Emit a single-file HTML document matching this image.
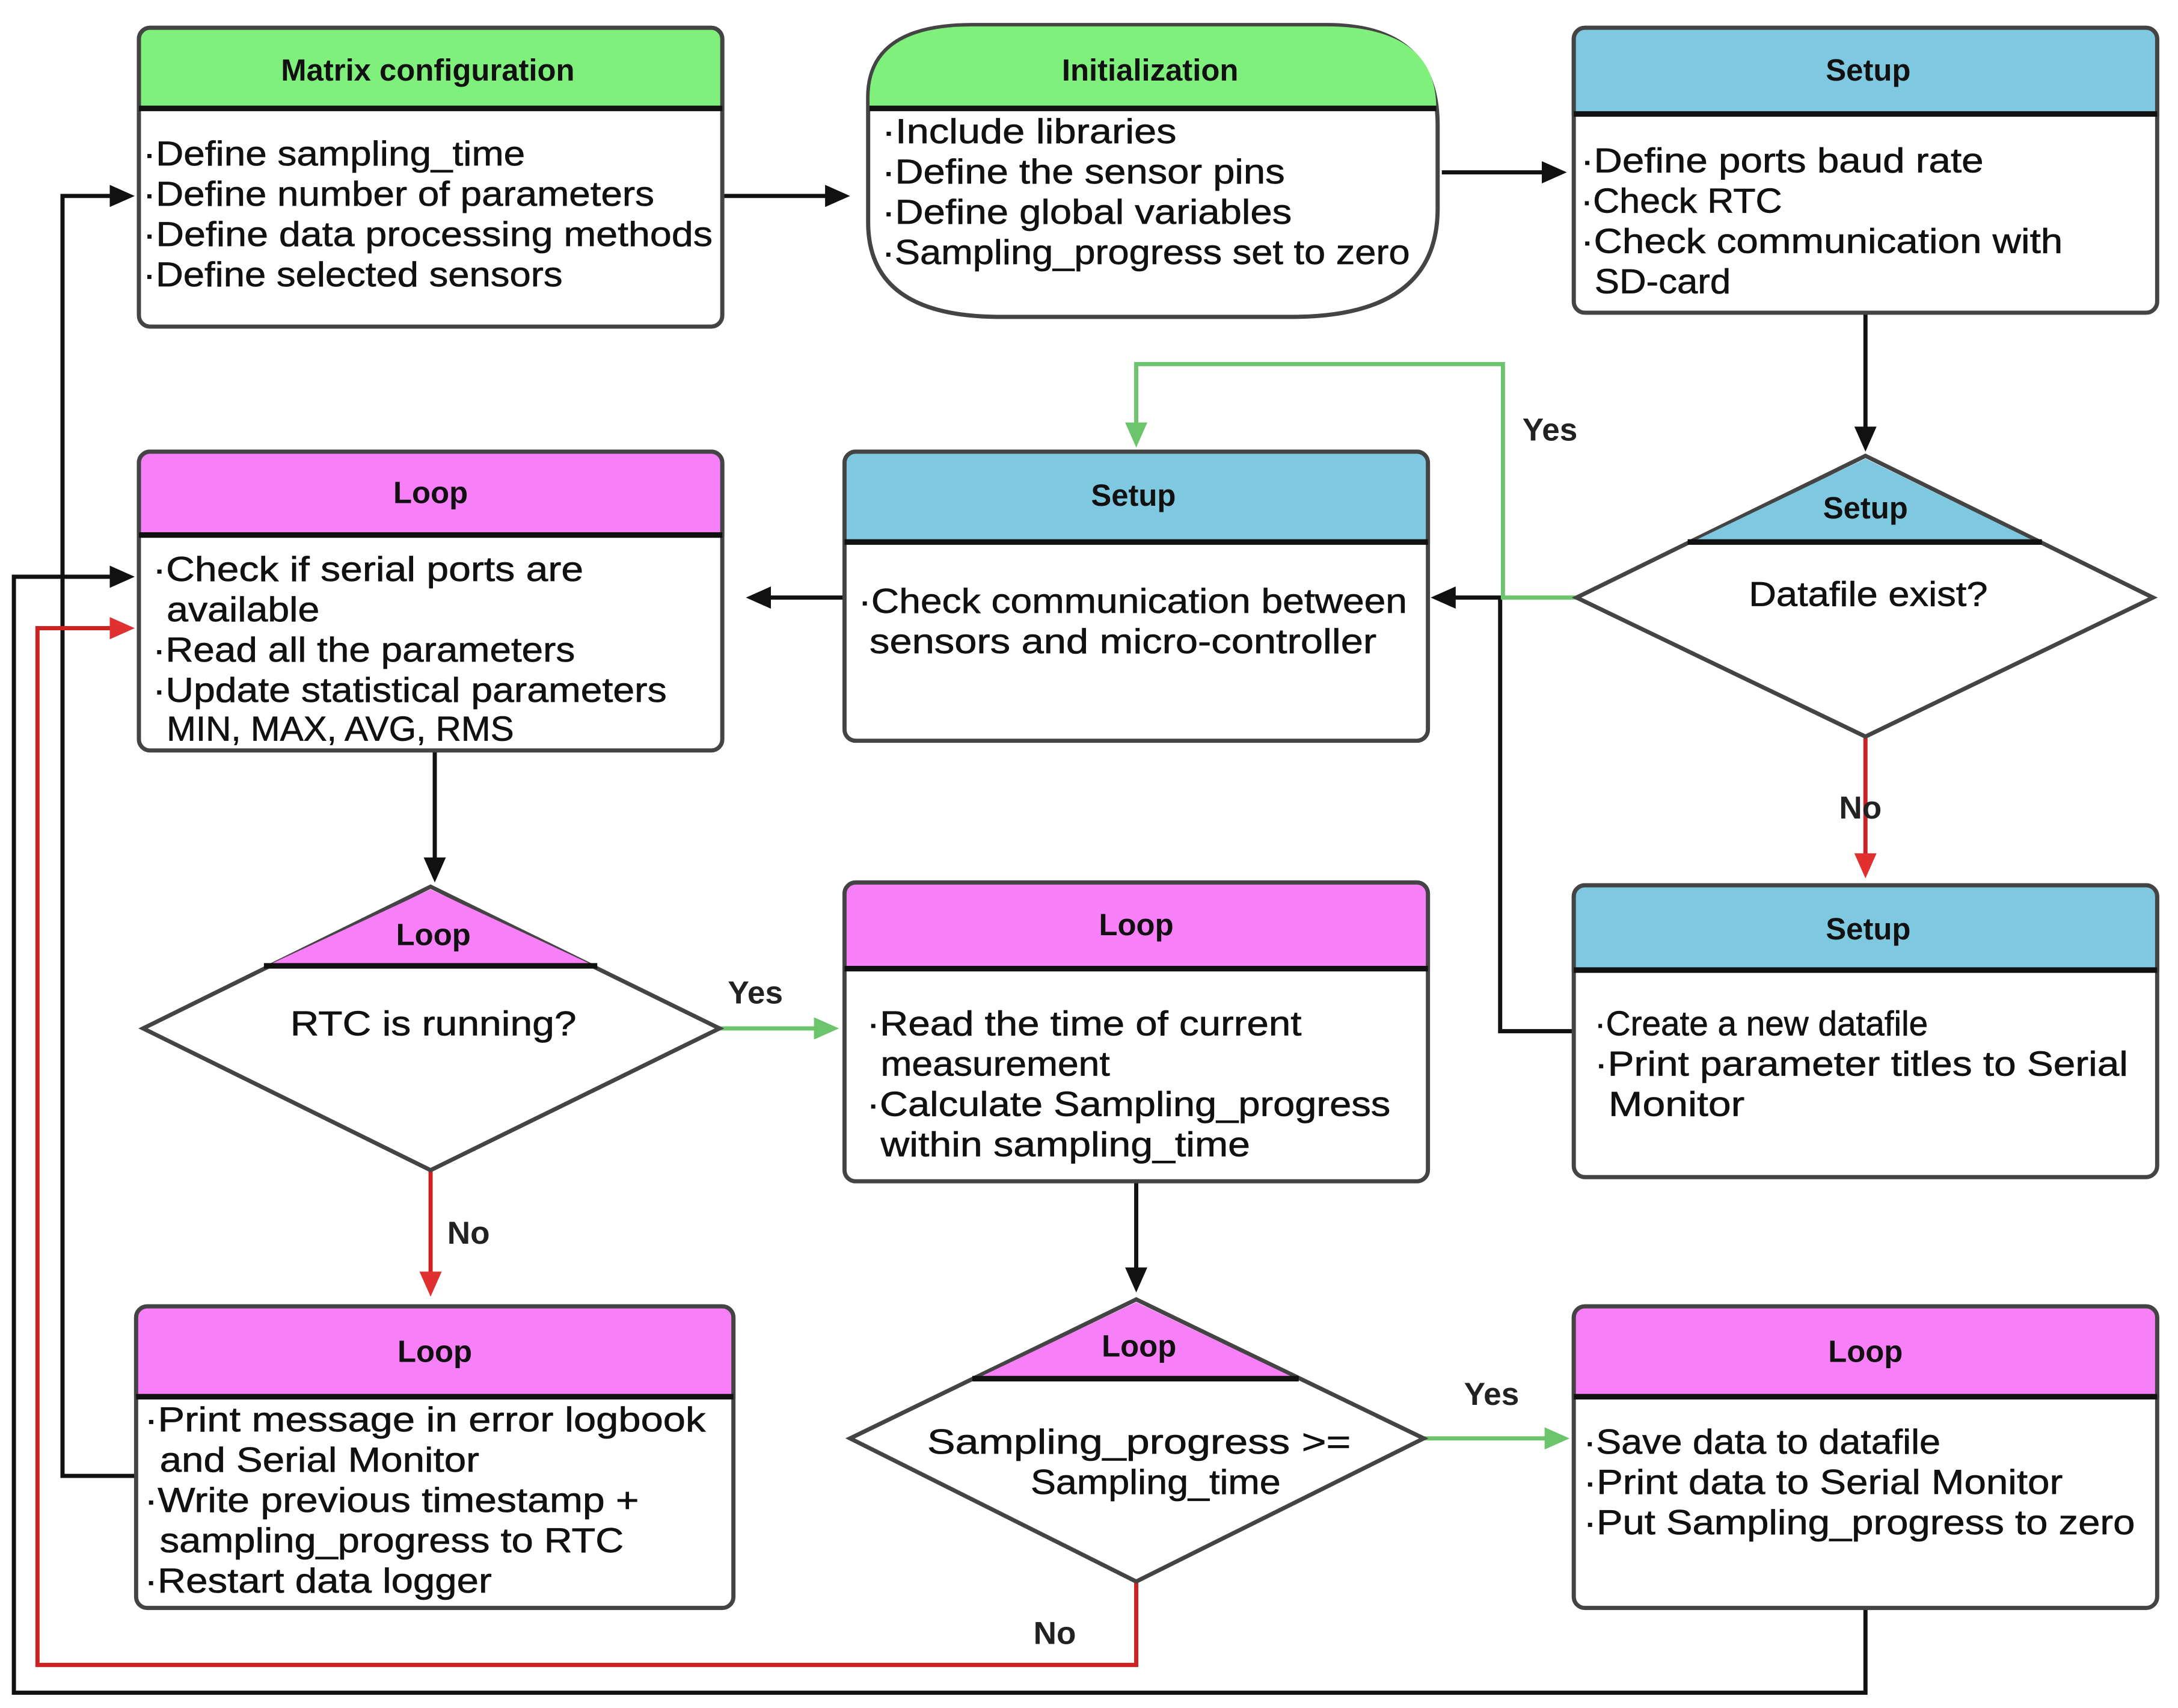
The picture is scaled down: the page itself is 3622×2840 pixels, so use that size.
<!DOCTYPE html>
<html><head><meta charset="utf-8"><style>
html,body{margin:0;padding:0;background:#fff}
svg{display:block}
text{font-family:"Liberation Sans",sans-serif;fill:#111}
.b{font-size:25px}
.b text{stroke:#111;stroke-width:0.3}
.h{font-size:22px;font-weight:bold;text-anchor:middle}
.n{font-size:25px;font-weight:normal;stroke:#111;stroke-width:0.3}
.l{font-size:23px;font-weight:bold;fill:#222}
</style></head><body>
<svg width="3622" height="2840" viewBox="0 0 1568 1229" preserveAspectRatio="none" xmlns="http://www.w3.org/2000/svg">
<g stroke-width="3" fill="none">
<path d="M520 141 H600" stroke="#111"/><path d="M612 141 l-18 -8 v16z" fill="#111" stroke="none"/>
<path d="M1038 124 H1116" stroke="#111"/><path d="M1128 124 l-18 -8 v16z" fill="#111" stroke="none"/>
<path d="M1343 225 V312" stroke="#111"/><path d="M1343 325 l-8 -18 h16z" fill="#111" stroke="none"/>
<path d="M1133 742 H1080 V430 H1045" stroke="#111"/><path d="M1030 430 l18 -8 v16z" fill="#111" stroke="none"/>
<path d="M608 430 H552" stroke="#111"/><path d="M537 430 l18 -8 v16z" fill="#111" stroke="none"/>
<path d="M313 540 V620" stroke="#111"/><path d="M313 635 l-8 -18 h16z" fill="#111" stroke="none"/>
<path d="M818 850 V915" stroke="#111"/><path d="M818 930 l-8 -18 h16z" fill="#111" stroke="none"/>
<path d="M98 1062 H45 V141 H82" stroke="#111"/><path d="M97 141 l-18 -8 v16z" fill="#111" stroke="none"/>
<path d="M1343 1157 V1218 H10 V415 H82" stroke="#111"/><path d="M97 415 l-18 -8 v16z" fill="#111" stroke="none"/>
<path d="M1135 430 H1082 V262 H818 V305" stroke="#6cc46c"/><path d="M818 322 l-8 -18 h16z" fill="#6cc46c" stroke="none"/>
<path d="M518 740 H588" stroke="#6cc46c"/><path d="M604 740 l-18 -8 v16z" fill="#6cc46c" stroke="none"/>
<path d="M1025 1035 H1114" stroke="#6cc46c"/><path d="M1130 1035 l-18 -8 v16z" fill="#6cc46c" stroke="none"/>
<path d="M1343 530 V615" stroke="#cc2222"/><path d="M1343 632 l-8 -18 h16z" fill="#e03030" stroke="none"/>
<path d="M310 842 V916" stroke="#cc2222"/><path d="M310 933 l-8 -18 h16z" fill="#e03030" stroke="none"/>
<path d="M818 1138 V1198 H27 V452 H80" stroke="#cc2222"/><path d="M97 452 l-18 -8 v16z" fill="#e03030" stroke="none"/>
</g>
<g stroke="#444" stroke-width="3">
<rect x="100" y="20" width="420" height="215" rx="8" fill="#fff"/>
<path d="M100 78 V28 a8 8 0 0 1 8 -8 H512 a8 8 0 0 1 8 8 V78z" fill="#80f07c"/>
<line x1="100" y1="78" x2="520" y2="78" stroke="#111" stroke-width="4"/>
<path d="M625 125 V70 Q625 18 700 18 H955 Q1035 18 1035 90 V150 Q1035 228 930 228 H720 Q625 228 625 160z" fill="#fff"/>
<path d="M626 78 V70 Q626 19 700 19 H955 Q1034 19 1034 78z" fill="#80f07c" stroke="none"/>
<line x1="626" y1="78" x2="1034" y2="78" stroke="#111" stroke-width="4"/>
<rect x="1133" y="20" width="420" height="205" rx="8" fill="#fff"/>
<path d="M1133 82 V28 a8 8 0 0 1 8 -8 H1545 a8 8 0 0 1 8 8 V82z" fill="#7ec8e0"/>
<line x1="1133" y1="82" x2="1553" y2="82" stroke="#111" stroke-width="4"/>
<path d="M1343 328 L1550 430 L1343 530 L1135 430z" fill="#fff"/>
<path d="M1343 330 L1466 390 H1218z" fill="#7ec8e0" stroke="none"/>
<line x1="1215" y1="390" x2="1470" y2="390" stroke="#111" stroke-width="4"/>
<rect x="608" y="325" width="420" height="208" rx="8" fill="#fff"/>
<path d="M608 390 V333 a8 8 0 0 1 8 -8 H1020 a8 8 0 0 1 8 8 V390z" fill="#7ec8e0"/>
<line x1="608" y1="390" x2="1028" y2="390" stroke="#111" stroke-width="4"/>
<rect x="1133" y="637" width="420" height="210" rx="8" fill="#fff"/>
<path d="M1133 698 V645 a8 8 0 0 1 8 -8 H1545 a8 8 0 0 1 8 8 V698z" fill="#7ec8e0"/>
<line x1="1133" y1="698" x2="1553" y2="698" stroke="#111" stroke-width="4"/>
<rect x="100" y="325" width="420" height="215" rx="8" fill="#fff"/>
<path d="M100 385 V333 a8 8 0 0 1 8 -8 H512 a8 8 0 0 1 8 8 V385z" fill="#f77ff7"/>
<line x1="100" y1="385" x2="520" y2="385" stroke="#111" stroke-width="4"/>
<path d="M310 638 L518 740 L310 842 L103 740z" fill="#fff"/>
<path d="M310 640 L428 695 H192z" fill="#f77ff7" stroke="none"/>
<line x1="190" y1="695" x2="430" y2="695" stroke="#111" stroke-width="4"/>
<rect x="608" y="635" width="420" height="215" rx="8" fill="#fff"/>
<path d="M608 697 V643 a8 8 0 0 1 8 -8 H1020 a8 8 0 0 1 8 8 V697z" fill="#f77ff7"/>
<line x1="608" y1="697" x2="1028" y2="697" stroke="#111" stroke-width="4"/>
<path d="M818 935 L1025 1035 L818 1138 L612 1035z" fill="#fff"/>
<path d="M818 937 L933 992 H703z" fill="#f77ff7" stroke="none"/>
<line x1="700" y1="992" x2="935" y2="992" stroke="#111" stroke-width="4"/>
<rect x="1133" y="940" width="420" height="217" rx="8" fill="#fff"/>
<path d="M1133 1005 V948 a8 8 0 0 1 8 -8 H1545 a8 8 0 0 1 8 8 V1005z" fill="#f77ff7"/>
<line x1="1133" y1="1005" x2="1553" y2="1005" stroke="#111" stroke-width="4"/>
<rect x="98" y="940" width="430" height="217" rx="8" fill="#fff"/>
<path d="M98 1005 V948 a8 8 0 0 1 8 -8 H520 a8 8 0 0 1 8 8 V1005z" fill="#f77ff7"/>
<line x1="98" y1="1005" x2="528" y2="1005" stroke="#111" stroke-width="4"/>
</g>
<text class="h" x="308" y="58">Matrix configuration</text>
<text class="h" x="828" y="58">Initialization</text>
<text class="h" x="1345" y="58">Setup</text>
<text class="h" x="1343" y="373">Setup</text>
<text class="h n" x="1345" y="436" textLength="172" lengthAdjust="spacingAndGlyphs">Datafile exist?</text>
<text class="h" x="816" y="364">Setup</text>
<text class="h" x="1345" y="676">Setup</text>
<text class="h" x="310" y="362">Loop</text>
<text class="h" x="312" y="680">Loop</text>
<text class="h n" x="312" y="745" textLength="206" lengthAdjust="spacingAndGlyphs">RTC is running?</text>
<text class="h" x="818" y="673">Loop</text>
<text class="h" x="820" y="976">Loop</text>
<text class="h n" x="820" y="1046" textLength="305" lengthAdjust="spacingAndGlyphs">Sampling_progress &gt;=</text>
<text class="h n" x="832" y="1075" textLength="180" lengthAdjust="spacingAndGlyphs">Sampling_time</text>
<text class="h" x="1343" y="980">Loop</text>
<text class="h" x="313" y="980">Loop</text>
<g class="b">
<text x="103" y="119" textLength="275" lengthAdjust="spacingAndGlyphs">·Define sampling_time</text>
<text x="103" y="148" textLength="368" lengthAdjust="spacingAndGlyphs">·Define number of parameters</text>
<text x="103" y="177" textLength="410" lengthAdjust="spacingAndGlyphs">·Define data processing methods</text>
<text x="103" y="206" textLength="302" lengthAdjust="spacingAndGlyphs">·Define selected sensors</text>
<text x="635" y="103" textLength="212" lengthAdjust="spacingAndGlyphs">·Include libraries</text>
<text x="635" y="132" textLength="290" lengthAdjust="spacingAndGlyphs">·Define the sensor pins</text>
<text x="635" y="161" textLength="295" lengthAdjust="spacingAndGlyphs">·Define global variables</text>
<text x="635" y="190" textLength="380" lengthAdjust="spacingAndGlyphs">·Sampling_progress set to zero</text>
<text x="1138" y="124" textLength="290" lengthAdjust="spacingAndGlyphs">·Define ports baud rate</text>
<text x="1138" y="153" textLength="145" lengthAdjust="spacingAndGlyphs">·Check RTC</text>
<text x="1138" y="182" textLength="347" lengthAdjust="spacingAndGlyphs">·Check communication with</text>
<text x="1148" y="211" textLength="98" lengthAdjust="spacingAndGlyphs">SD-card</text>
<text x="618" y="441" textLength="395" lengthAdjust="spacingAndGlyphs">·Check communication between</text>
<text x="626" y="470" textLength="365" lengthAdjust="spacingAndGlyphs">sensors and micro-controller</text>
<text x="1148" y="745" textLength="240" lengthAdjust="spacingAndGlyphs">·Create a new datafile</text>
<text x="1148" y="774" textLength="384" lengthAdjust="spacingAndGlyphs">·Print parameter titles to Serial</text>
<text x="1158" y="803" textLength="98" lengthAdjust="spacingAndGlyphs">Monitor</text>
<text x="110" y="418" textLength="310" lengthAdjust="spacingAndGlyphs">·Check if serial ports are</text>
<text x="120" y="447" textLength="110" lengthAdjust="spacingAndGlyphs">available</text>
<text x="110" y="476" textLength="304" lengthAdjust="spacingAndGlyphs">·Read all the parameters</text>
<text x="110" y="505" textLength="370" lengthAdjust="spacingAndGlyphs">·Update statistical parameters</text>
<text x="120" y="533" textLength="250" lengthAdjust="spacingAndGlyphs">MIN, MAX, AVG, RMS</text>
<text x="624" y="745" textLength="313" lengthAdjust="spacingAndGlyphs">·Read the time of current</text>
<text x="634" y="774" textLength="165" lengthAdjust="spacingAndGlyphs">measurement</text>
<text x="624" y="803" textLength="377" lengthAdjust="spacingAndGlyphs">·Calculate Sampling_progress</text>
<text x="634" y="832" textLength="266" lengthAdjust="spacingAndGlyphs">within sampling_time</text>
<text x="1140" y="1046" textLength="257" lengthAdjust="spacingAndGlyphs">·Save data to datafile</text>
<text x="1140" y="1075" textLength="345" lengthAdjust="spacingAndGlyphs">·Print data to Serial Monitor</text>
<text x="1140" y="1104" textLength="397" lengthAdjust="spacingAndGlyphs">·Put Sampling_progress to zero</text>
<text x="104" y="1030" textLength="404" lengthAdjust="spacingAndGlyphs">·Print message in error logbook</text>
<text x="115" y="1059" textLength="230" lengthAdjust="spacingAndGlyphs">and Serial Monitor</text>
<text x="104" y="1088" textLength="356" lengthAdjust="spacingAndGlyphs">·Write previous timestamp +</text>
<text x="115" y="1117" textLength="334" lengthAdjust="spacingAndGlyphs">sampling_progress to RTC</text>
<text x="104" y="1146" textLength="250" lengthAdjust="spacingAndGlyphs">·Restart data logger</text>
</g>
<text class="l" x="1096" y="317">Yes</text>
<text class="l" x="1324" y="589">No</text>
<text class="l" x="524" y="722">Yes</text>
<text class="l" x="322" y="895">No</text>
<text class="l" x="1054" y="1011">Yes</text>
<text class="l" x="744" y="1183">No</text>
</svg>
</body></html>
